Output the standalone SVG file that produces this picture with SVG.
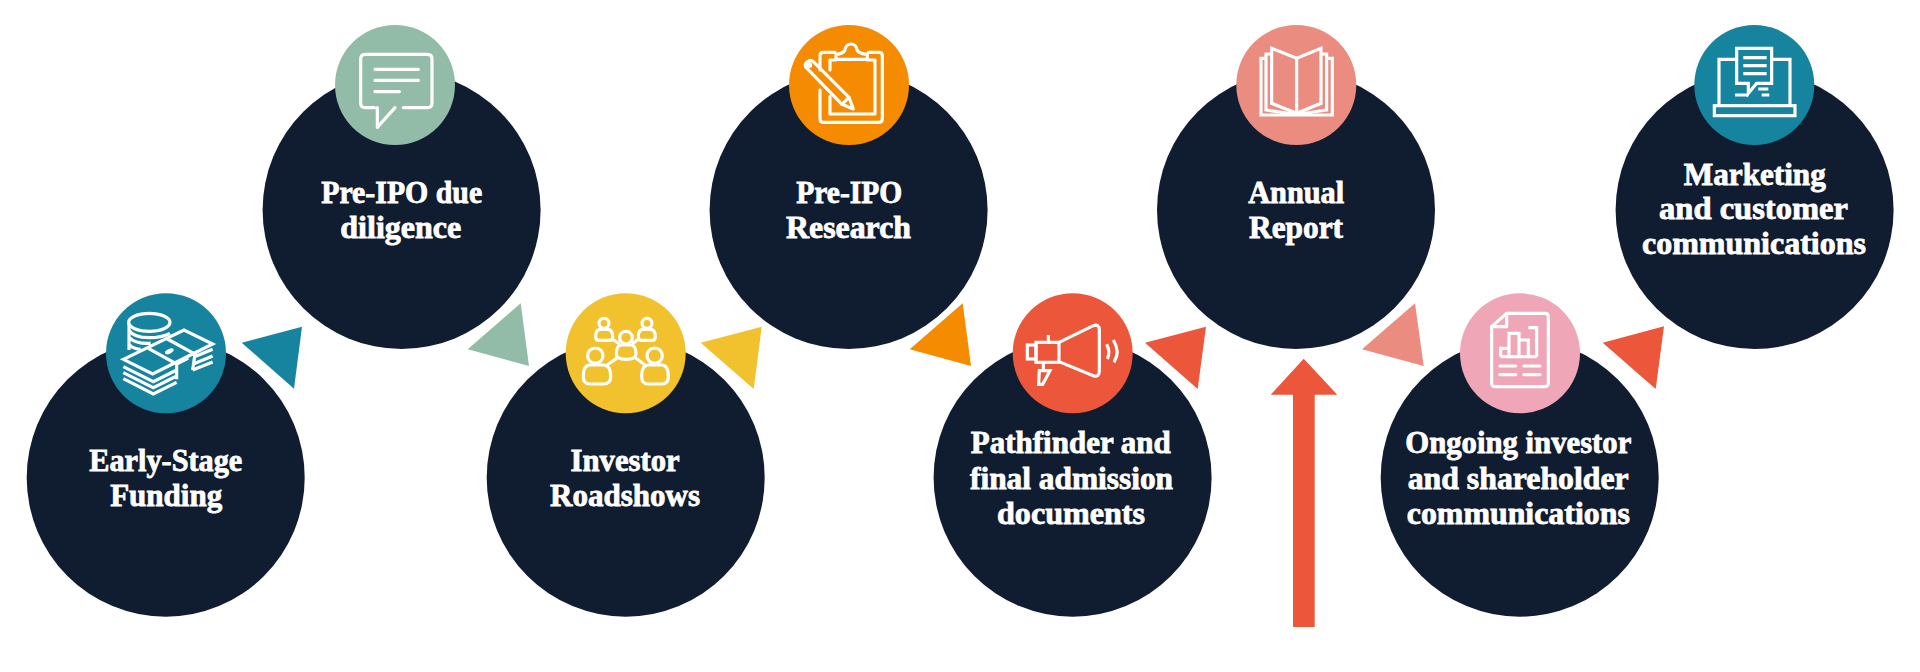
<svg xmlns="http://www.w3.org/2000/svg" width="1920" height="672" viewBox="0 0 1920 672">
<style>
.big{fill:#101c30}
.ic{fill:none;stroke:#fff;stroke-width:9.5;stroke-linecap:round;stroke-linejoin:round}
.ms{stroke-linecap:butt;stroke-linejoin:miter}
.t{font-family:"Liberation Serif","Times New Roman",serif;font-weight:700;font-size:31px;fill:#fff;stroke:#fff;stroke-width:.8px;text-anchor:middle}
.teal{fill:#17849f}.green{fill:#93bca8}.yellow{fill:#f2c12e}.orange{fill:#f58b00}.red{fill:#ec573c}.salmon{fill:#ea8d80}.pink{fill:#efa7b7}
</style>
<rect width="1920" height="672" fill="#fff"/>
<g id="connectors">
<polygon class="teal" points="241.7,342.7 302,326.7 294,388.7"/>
<polygon class="green" points="467.7,349.3 520.7,303.3 529,366"/>
<polygon class="yellow" points="700.7,342.7 761.7,326.7 753.7,389"/>
<polygon class="orange" points="909.7,349.3 962.7,303.3 971,366"/>
<polygon class="red" points="1145,342.7 1206,326.7 1197.7,389"/>
<polygon class="salmon" points="1362,349.3 1415,303.3 1423.7,366"/>
<polygon class="red" points="1602.7,342.7 1664,326.3 1655.7,389"/>
<polygon class="red" points="1303.7,358.7 1337.3,394.7 1314.7,394.7 1314.7,627 1293,627 1293,394.7 1270.7,394.7"/>
</g>
<g id="node-early-stage-funding">
<circle class="big" cx="165.7" cy="477.7" r="139"/>
<circle class="teal" cx="166" cy="353.3" r="60"/>
<g class="ic ms" transform="translate(80 270) scale(.3333)">
<ellipse cx="208" cy="157" rx="62" ry="27"/>
<path d="M147 160V240M147 180Q160 203 208 203Q245 203 270 190M147 202Q165 222 212 220M147 222Q155 236 182 238"/>
<path d="M130 268L312 180L398 222L218 312Z" fill="#17849f"/>
<path d="M205 235L290 282V328M262 207L345 252L338 300M290 282L325 264"/>
<path d="M130 290L220 335L290 300M130 308L220 353L290 318M130 326L220 372L290 337M340 262L398 238M340 282L398 258M338 300L398 276"/>
<ellipse cx="268" cy="244" rx="14" ry="7" transform="rotate(-25 268 244)" fill="#fff" stroke="none"/>
</g>
<text class="t" x="165.8" y="471" textLength="153" lengthAdjust="spacingAndGlyphs">Early-Stage</text>
<text class="t" x="166.2" y="506" textLength="112" lengthAdjust="spacingAndGlyphs">Funding</text>
</g>
<g id="node-pre-ipo-due-diligence">
<circle class="big" cx="401.6" cy="210" r="139"/>
<circle class="green" cx="395" cy="85" r="60"/>
<g class="ic" transform="translate(320 10) scale(.3333)">
<path d="M163 293H136Q122 293 122 279V147Q122 133 136 133H322Q336 133 336 147V279Q336 293 322 293H250M225 293L172 352V293"/>
<path d="M165 178H295M165 211H295M165 245H238"/>
</g>
<text class="t" x="401.7" y="203" textLength="161" lengthAdjust="spacingAndGlyphs">Pre-IPO due</text>
<text class="t" x="400.8" y="238" textLength="121" lengthAdjust="spacingAndGlyphs">diligence</text>
</g>
<g id="node-investor-roadshows">
<circle class="big" cx="625.7" cy="477.7" r="139"/>
<circle class="yellow" cx="625.7" cy="353.3" r="60"/>
<g class="ic" transform="translate(550 280) scale(.3333)">
<circle cx="162" cy="130" r="15"/><path d="M137 170Q137 148 152 148H172Q188 148 188 170Q188 181 178 181H147Q137 181 137 170Z"/>
<circle cx="291" cy="130" r="15"/><path d="M265 170Q265 148 280 148H300Q316 148 316 170Q316 181 306 181H275Q265 181 265 170Z"/>
<circle cx="228" cy="173" r="19"/><path d="M199 222Q199 195 215 195H242Q258 195 258 222Q258 238 228 238Q199 238 199 222Z"/>
<circle cx="136" cy="227" r="23"/><path d="M100 290Q100 255 120 255H160Q182 255 182 290Q182 312 160 312H120Q100 312 100 290Z"/>
<circle cx="314" cy="227" r="23"/><path d="M275 290Q275 255 295 255H335Q355 255 355 290Q355 312 335 312H295Q275 312 275 290Z"/>
<path d="M188 178L205 190M265 178L250 190M175 252L200 235M258 235L285 255"/>
</g>
<text class="t" x="625.1" y="471" textLength="109" lengthAdjust="spacingAndGlyphs">Investor</text>
<text class="t" x="625.1" y="506" textLength="150" lengthAdjust="spacingAndGlyphs">Roadshows</text>
</g>
<g id="node-pre-ipo-research">
<circle class="big" cx="848.6" cy="210" r="139"/>
<circle class="orange" cx="849" cy="85" r="60"/>
<g class="ic" transform="translate(780 15) scale(.3333)">
<path d="M120 225V312Q120 322 130 322H297Q307 322 307 312V122Q307 112 297 112H265M165 112H130Q120 112 120 122V165"/>
<path d="M150 165V135H168M262 135H285V297H150V245"/>
<path d="M168 133V118Q190 116 195 105A18 18 0 0 1 231 105Q236 116 262 118V133Z"/>
<path d="M78 157Q72 148 82 140Q92 132 100 140L207 247L220 282L186 268Z"/>
<path d="M186 268L207 247"/>
<circle cx="88" cy="150" r="4"/>
</g>
<text class="t" x="849.2" y="203" textLength="106" lengthAdjust="spacingAndGlyphs">Pre-IPO</text>
<text class="t" x="848.5" y="238" textLength="125" lengthAdjust="spacingAndGlyphs">Research</text>
</g>
<g id="node-pathfinder">
<circle class="big" cx="1072.6" cy="477.7" r="139"/>
<circle class="red" cx="1072.7" cy="353.3" r="60"/>
<g class="ic ms" transform="translate(1000 285) scale(.3333)">
<rect x="108" y="172" width="69" height="60"/>
<rect x="82" y="180" width="26" height="42"/>
<path d="M145 150V172M130 232V257M118 257H150L128 298H116Z"/>
<path d="M177 172L280 122Q298 116 298 135V258Q298 278 280 272L177 230"/>
<path d="M320 178Q332 200 322 222M340 165Q362 200 342 232"/>
</g>
<text class="t" x="1070.8" y="452.7" textLength="200" lengthAdjust="spacingAndGlyphs">Pathfinder and</text>
<text class="t" x="1071.5" y="489" textLength="203" lengthAdjust="spacingAndGlyphs">final admission</text>
<text class="t" x="1071" y="524" textLength="148" lengthAdjust="spacingAndGlyphs">documents</text>
</g>
<g id="node-annual-report">
<circle class="big" cx="1296" cy="210" r="139"/>
<circle class="salmon" cx="1296.3" cy="85" r="60"/>
<g class="ic ms" transform="translate(1230 15) scale(.3333)">
<path d="M200 130L125 100V265L200 295L273 265V100L200 130V295"/>
<path d="M125 117H108V285L190 297M273 117H290V285L210 297"/>
<path d="M108 130H93V300H307V130H290"/>
</g>
<text class="t" x="1296.2" y="203" textLength="96" lengthAdjust="spacingAndGlyphs">Annual</text>
<text class="t" x="1296" y="238" textLength="94" lengthAdjust="spacingAndGlyphs">Report</text>
</g>
<g id="node-ongoing-communications">
<circle class="big" cx="1519.7" cy="477.7" r="139"/>
<circle class="pink" cx="1520" cy="353.3" r="60"/>
<g class="ic" transform="translate(1450 285) scale(.3333)">
<path d="M170 85H285Q295 85 295 95V295Q295 305 285 305H135Q125 305 125 295V125Z"/>
<path d="M170 85V125H125"/>
<path d="M152 215V190H177M177 215V145H207V215M207 165H235V215M235 128H260V215M152 215H260" class="ms"/>
<path d="M150 243H197M222 243H270M150 269H197M222 269H270"/>
</g>
<text class="t" x="1518.3" y="452.7" textLength="226" lengthAdjust="spacingAndGlyphs">Ongoing investor</text>
<text class="t" x="1518.2" y="489" textLength="221" lengthAdjust="spacingAndGlyphs">and shareholder</text>
<text class="t" x="1518.3" y="524" textLength="223" lengthAdjust="spacingAndGlyphs">communications</text>
</g>
<g id="node-marketing">
<circle class="big" cx="1754.6" cy="210" r="139"/>
<circle class="teal" cx="1754.3" cy="85" r="60"/>
<g class="ic ms" transform="translate(1680 15) scale(.3333)">
<rect x="103" y="272" width="242" height="30"/>
<path d="M168 133H117V272M330 272V133H278"/>
<path d="M170 100H275V205H230L205 235V205H170Z"/>
<path d="M190 128H260M190 152H260M190 176H260M165 240H205M235 222H265M245 240H268"/>
</g>
<text class="t" x="1754.8" y="185" textLength="142" lengthAdjust="spacingAndGlyphs">Marketing</text>
<text class="t" x="1753.5" y="219" textLength="189" lengthAdjust="spacingAndGlyphs">and customer</text>
<text class="t" x="1754" y="253.5" textLength="224" lengthAdjust="spacingAndGlyphs">communications</text>
</g>
</svg>
